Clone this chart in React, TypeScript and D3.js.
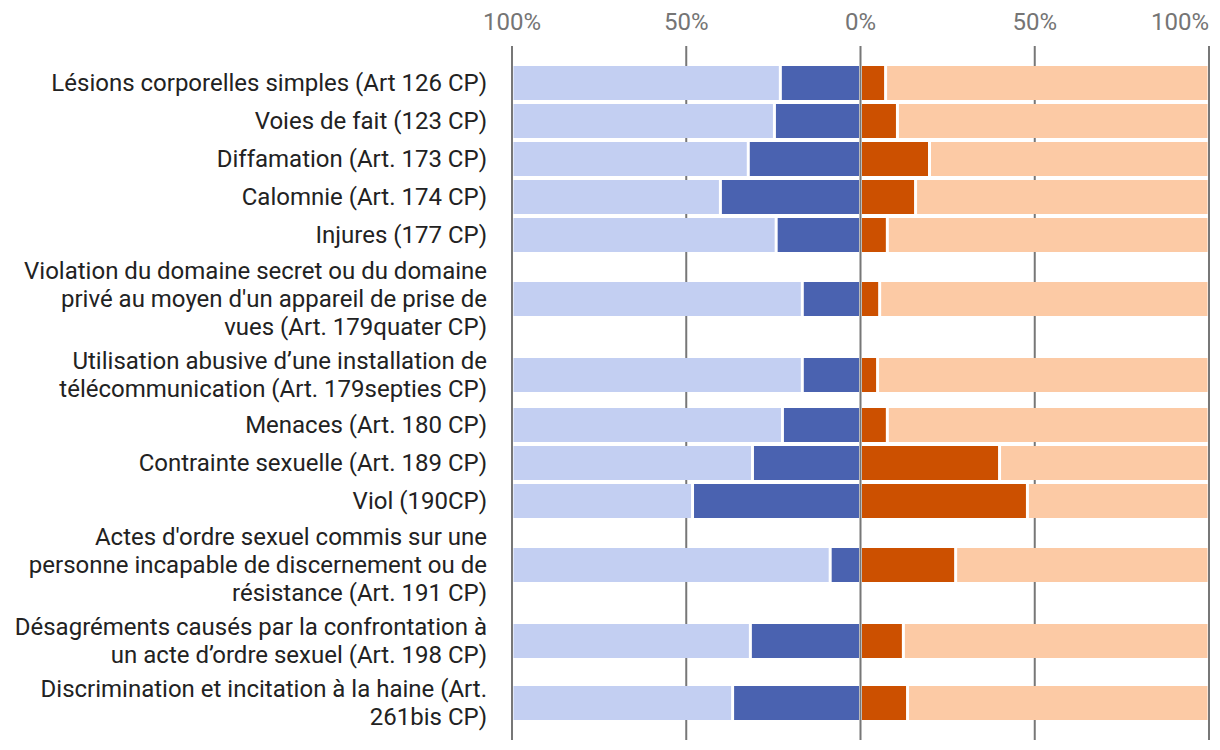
import * as d3 from "d3";
import { useEffect, useRef } from "react";

const categories = [
  "Lésions corporelles simples (Art 126 CP)",
  "Voies de fait (123 CP)",
  "Diffamation (Art. 173 CP)",
  "Calomnie (Art. 174 CP)",
  "Injures (177 CP)",
  "Violation du domaine secret ou du domaine\nprivé au moyen d'un appareil de prise de\nvues (Art. 179quater CP)",
  "Utilisation abusive d’une installation de\ntélécommunication (Art. 179septies CP)",
  "Menaces (Art. 180 CP)",
  "Contrainte sexuelle (Art. 189 CP)",
  "Viol (190CP)",
  "Actes d'ordre sexuel commis sur une\npersonne incapable de discernement ou de\nrésistance (Art. 191 CP)",
  "Désagréments causés par la confrontation à\nun acte d’ordre sexuel (Art. 198 CP)",
  "Discrimination et incitation à la haine (Art.\n261bis CP)",
];

// share (%) of the dark segment on each side, the rest of each side is the light segment
const leftDark = [23, 24.7, 32.2, 40.2, 24.2, 16.7, 16.7, 22.4, 31.0, 48.2, 8.7, 31.6, 36.7];
const rightDark = [7.2, 10.6, 19.8, 15.8, 7.7, 5.5, 4.9, 7.7, 39.9, 47.9, 27.3, 12.3, 13.5];

const tickValues = [-100, -50, 0, 50, 100];

const colors = {
  leftLight: "#c3cff2",
  leftDark: "#4a62b0",
  rightDark: "#cc5000",
  rightLight: "#fccaa5",
};

const W = 1220;
const H = 750;

export default function App() {
  const ref = useRef<SVGSVGElement>(null);

  useEffect(() => {
    if (!ref.current) return;
    const svg = d3.select(ref.current);
    svg.selectAll("*").remove();

    const x = d3.scaleLinear().domain([-100, 100]).range([512, 1209]);

    // rows grow with the number of label lines
    const lines = categories.map((c) => c.split("\n"));
    const heights = lines.map((l) => Math.max(38, 28 * l.length + 6));
    const top0 = 64;
    const centers: number[] = [];
    let acc = top0;
    heights.forEach((h) => {
      centers.push(acc + h / 2);
      acc += h;
    });

    // gridlines
    svg
      .append("g")
      .selectAll("line")
      .data(tickValues)
      .join("line")
      .attr("x1", (d) => x(d))
      .attr("x2", (d) => x(d))
      .attr("y1", 46)
      .attr("y2", 740)
      .attr("stroke", "#777")
      .attr("stroke-width", 2);

    svg
      .append("g")
      .selectAll("text")
      .data(tickValues)
      .join("text")
      .attr("x", (d) => x(d))
      .attr("y", 30)
      .attr("text-anchor", (d, i) => (i === tickValues.length - 1 ? "end" : "middle"))
      .attr("font-family", "Roboto, sans-serif")
      .attr("font-size", 24)
      .attr("fill", "#757575")
      .text((d) => `${Math.abs(d)}%`);

    const barH = 34;
    const segs = categories.flatMap((_, i) => [
      { i, x0: -100, x1: -leftDark[i], color: colors.leftLight },
      { i, x0: -leftDark[i], x1: 0, color: colors.leftDark },
      { i, x0: 0, x1: rightDark[i], color: colors.rightDark },
      { i, x0: rightDark[i], x1: 100, color: colors.rightLight },
    ]);

    svg
      .append("g")
      .selectAll("rect")
      .data(segs)
      .join("rect")
      .attr("x", (d) => x(d.x0) + 1.5)
      .attr("width", (d) => Math.max(0, x(d.x1) - x(d.x0) - 3))
      .attr("y", (d) => centers[d.i] - barH / 2)
      .attr("height", barH)
      .attr("fill", (d) => d.color);

    const labels = svg
      .append("g")
      .attr("font-family", "Roboto, sans-serif")
      .attr("font-size", 24)
      .attr("fill", "#222");

    lines.forEach((l, i) => {
      const t = labels
        .append("text")
        .attr("text-anchor", "end")
        .attr("x", 487)
        .attr("y", centers[i] - ((l.length - 1) * 28) / 2);
      l.forEach((s, k) => {
        t.append("tspan")
          .attr("x", 487)
          .attr("dy", k === 0 ? "0.35em" : 28)
          .text(s);
      });
    });
  }, []);

  return (
    <svg
      ref={ref}
      width={W}
      height={H}
      style={{ position: "absolute", left: 0, top: 0, background: "#fff" }}
    />
  );
}
